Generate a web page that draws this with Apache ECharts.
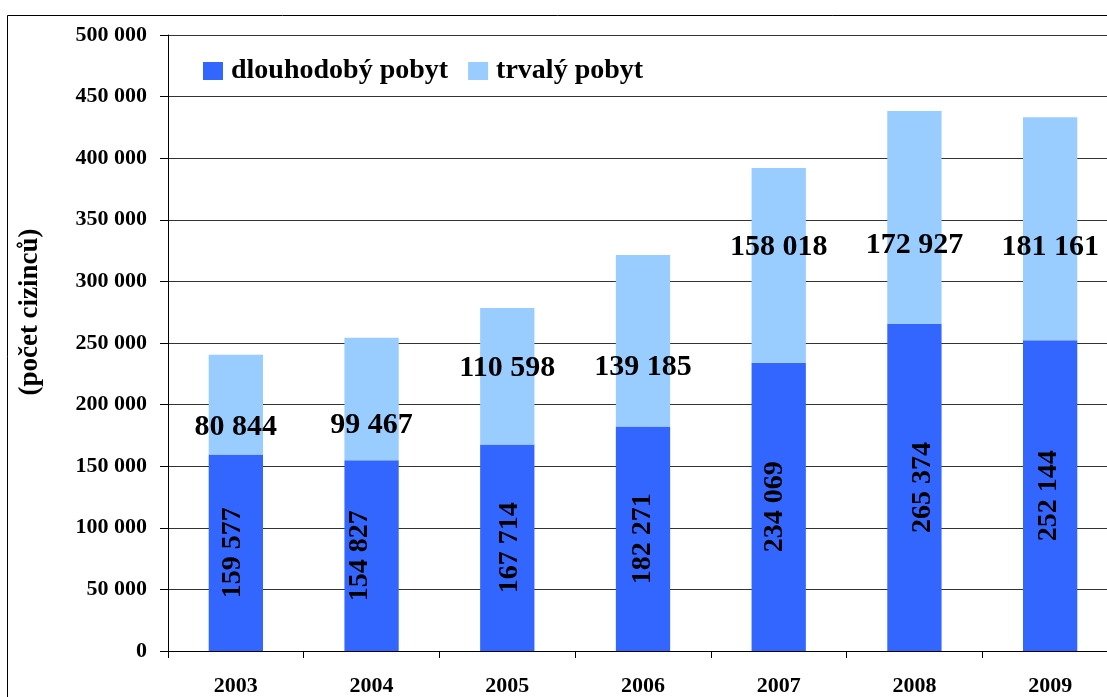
<!DOCTYPE html>
<html>
<head>
<meta charset="utf-8">
<script src="https://cdn.jsdelivr.net/npm/echarts@6/dist/echarts.min.js"></script>
<style>
  html, body { margin: 0; padding: 0; background: #fff; }
  #chart { width: 1107px; height: 697px; }
</style>
</head>
<body>
<div id="chart"></div>
<script>
const years = ['2003', '2004', '2005', '2006', '2007', '2008', '2009']
const longTerm = [159577, 154827, 167714, 182271, 234069, 265374, 252144]
const permanent = [80844, 99467, 110598, 139185, 158018, 172927, 181161]
const seriesNames = ['dlouhodobý pobyt', 'trvalý pobyt']
const yTitle = '(počet cizinců)'

// label nudges as placed by hand in the original chart
const permanentLabelDy = [23, 26, -8, 27, -18, 28, 18]
const longTermLabelDy = [-3, -12, 2, 0, -4, 8, -1]

const font = '"Liberation Serif", "Times New Roman", serif'
const fmt = v => String(v).replace(/\B(?=(\d{3})+(?!\d))/g, ' ')

const chart = echarts.init(document.getElementById('chart'))

chart.setOption({
  animation: false,
  textStyle: { fontFamily: font, fontWeight: 'bold', color: '#000' },
  graphic: [{
    type: 'rect',
    shape: { x: 7.5, y: 15.5, width: 1200, height: 800 },
    style: { fill: 'none', stroke: '#000', lineWidth: 1 },
    z: -1
  }, {
    type: 'text',
    x: 30,
    y: 312,
    rotation: Math.PI / 2,
    style: {
      text: yTitle,
      fontFamily: font,
      fontWeight: 'bold',
      fontSize: 27,
      fill: '#000',
      align: 'center',
      verticalAlign: 'middle'
    }
  }],
  legend: {
    left: 203,
    top: 57,
    padding: 0,
    itemWidth: 20,
    itemHeight: 18,
    itemGap: 20,
    icon: 'rect',
    textStyle: {
      fontFamily: font,
      fontWeight: 'bold',
      fontSize: 28,
      color: '#000',
      padding: [0, 0, 0, 3]
    },
    data: seriesNames
  },
  grid: {
    left: 168,
    right: -11,
    top: 35,
    bottom: 46,
    outerBoundsMode: 'none'
  },
  xAxis: {
    type: 'category',
    data: years,
    axisLine: { lineStyle: { color: '#000', width: 1 } },
    axisTick: { show: true, length: 7, lineStyle: { color: '#000' } },
    axisLabel: {
      margin: 24,
      fontFamily: font,
      fontWeight: 'bold',
      fontSize: 22,
      color: '#000'
    }
  },
  yAxis: {
    type: 'value',
    min: 0,
    max: 500000,
    interval: 50000,
    axisLine: { show: true, lineStyle: { color: '#000', width: 1 } },
    axisTick: { show: true, length: 8, lineStyle: { color: '#000' } },
    splitLine: { lineStyle: { color: '#333', width: 1 } },
    axisLabel: {
      margin: 21,
      fontFamily: font,
      fontWeight: 'bold',
      fontSize: 22,
      color: '#000',
      formatter: fmt
    }
  },
  series: [{
    name: seriesNames[0],
    type: 'bar',
    stack: 'total',
    barWidth: '40%',
    itemStyle: { color: '#3366ff' },
    label: {
      show: true,
      position: 'inside',
      rotate: 90,
      fontFamily: font,
      fontWeight: 'bold',
      fontSize: 28,
      color: '#000',
      formatter: p => fmt(p.value)
    },
    data: longTerm.map((v, i) => ({ value: v, label: { offset: [0, longTermLabelDy[i]] } }))
  }, {
    name: seriesNames[1],
    type: 'bar',
    stack: 'total',
    barWidth: '40%',
    itemStyle: { color: '#99ccff' },
    label: {
      show: true,
      position: 'inside',
      fontFamily: font,
      fontWeight: 'bold',
      fontSize: 30,
      color: '#000',
      formatter: p => fmt(p.value)
    },
    data: permanent.map((v, i) => ({ value: v, label: { offset: [0, permanentLabelDy[i]] } }))
  }]
})
</script>
</body>
</html>
